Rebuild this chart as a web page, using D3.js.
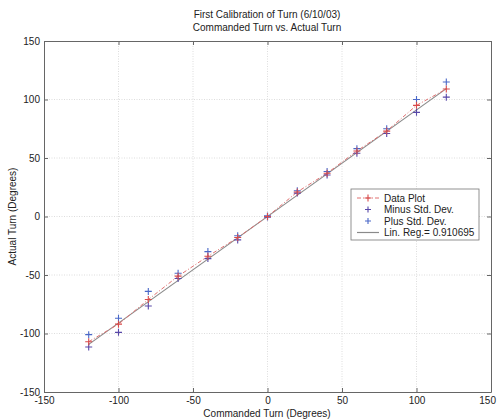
<!DOCTYPE html>
<html>
<head>
<meta charset="utf-8">
<script src="https://cdn.jsdelivr.net/npm/d3@7"></script>
<style>
  body { margin: 0; background: #fff; }
  text { font-family: "Liberation Sans", Arial, sans-serif; fill: #222; }
</style>
</head>
<body>
<div id="chart"></div>
<script>
// commanded turn (degrees)
var commanded = [-120, -100, -80, -60, -40, -20, 0, 20, 40, 60, 80, 100, 120];
// mean actual turn
var actual = [-107, -92, -71, -51, -34, -18, 0, 21, 37, 56, 73, 95, 109];
var minusStd = [-111.5, -99, -76.5, -53, -36, -20, -0.5, 20, 35.5, 54, 71, 89, 102];
var plusStd = [-101, -87, -64, -48.5, -30, -16.5, 0.5, 22, 38.5, 58, 75, 100, 115];
// linear regression line endpoints (slope 0.910695)
var regX = [-120, 120];
var regY = [-109.3, 109.3];

var xTicks = [-150, -100, -50, 0, 50, 100, 150];
var yTicks = [-150, -100, -50, 0, 50, 100, 150];

var width = 498;
var height = 420;
var plotLeft = 44, plotRight = 491, plotTop = 41, plotBottom = 392;

var svg = d3.select("#chart").append("svg")
  .attr("width", width)
  .attr("height", height);

var xScale = d3.scaleLinear().domain([-150, 150]).range([plotLeft, plotRight]);
var yScale = d3.scaleLinear().domain([-150, 150]).range([plotBottom, plotTop]);

/* grid */
var grid = svg.append("g").attr("class", "grid");
grid.selectAll(".vx").data(xTicks.slice(1, -1)).enter().append("line")
  .attr("x1", d => xScale(d)).attr("x2", d => xScale(d))
  .attr("y1", plotTop).attr("y2", plotBottom)
  .attr("stroke", "#d4d4d4").attr("stroke-width", 0.8)
  .attr("stroke-dasharray", "1,1.5");
grid.selectAll(".hy").data(yTicks.slice(1, -1)).enter().append("line")
  .attr("y1", d => yScale(d)).attr("y2", d => yScale(d))
  .attr("x1", plotLeft).attr("x2", plotRight)
  .attr("stroke", "#d4d4d4").attr("stroke-width", 0.8)
  .attr("stroke-dasharray", "1,1.5");

/* axes, MATLAB-style box with inward ticks */
var tickLen = 4;
var fmt = d => String(d);
var axisStyle = function(g) {
  g.select(".domain").attr("stroke", "#666");
  g.selectAll(".tick line").attr("stroke", "#666");
  g.selectAll(".tick text").style("font-size", "10px").attr("fill", "#222");
};

var xAxisG = svg.append("g")
  .attr("transform", `translate(0, ${plotBottom})`)
  .call(d3.axisBottom(xScale).tickValues(xTicks).tickSize(-tickLen).tickSizeOuter(0).tickPadding(5).tickFormat(fmt))
  .call(axisStyle);
// keep the last label inside the window
xAxisG.selectAll(".tick text").filter(d => d === 150)
  .attr("text-anchor", "end").attr("dx", "0.45em");

svg.append("g")
  .attr("transform", `translate(0, ${plotTop})`)
  .call(d3.axisTop(xScale).tickValues(xTicks).tickSize(-tickLen).tickSizeOuter(0).tickFormat(""))
  .call(axisStyle);
svg.append("g")
  .attr("transform", `translate(${plotLeft}, 0)`)
  .call(d3.axisLeft(yScale).tickValues(yTicks).tickSize(-tickLen).tickSizeOuter(0).tickPadding(4).tickFormat(fmt))
  .call(axisStyle);
svg.append("g")
  .attr("transform", `translate(${plotRight}, 0)`)
  .call(d3.axisRight(yScale).tickValues(yTicks).tickSize(-tickLen).tickSizeOuter(0).tickFormat(""))
  .call(axisStyle);

/* lines */
var pts = commanded.map((c, i) => ({x: c, y: actual[i], lo: minusStd[i], hi: plusStd[i]}));

var line = d3.line().x(d => xScale(d[0])).y(d => yScale(d[1]));

svg.append("path")
  .attr("d", line(regX.map((x, i) => [x, regY[i]])))
  .attr("fill", "none").attr("stroke", "#8a8a8a").attr("stroke-width", 1.2);

svg.append("path")
  .attr("d", line(pts.map(d => [d.x, d.y])))
  .attr("fill", "none").attr("stroke", "#e07070").attr("stroke-width", 1)
  .attr("stroke-dasharray", "4,2,1,2");

function plus(g, cx, cy, color, s) {
  g.append("path")
    .attr("d", `M${cx - s},${cy}H${cx + s}M${cx},${cy - s}V${cy + s}`)
    .attr("stroke", color).attr("stroke-width", 1.1).attr("fill", "none");
}

var marks = svg.append("g");
pts.forEach(d => {
  plus(marks, xScale(d.x), yScale(d.lo), "#5848a8", 3.5);
  plus(marks, xScale(d.x), yScale(d.hi), "#4a68c8", 3.5);
  plus(marks, xScale(d.x), yScale(d.y), "#d84a4a", 3.5);
});

/* titles */
svg.append("text").attr("x", 267).attr("y", 18).attr("text-anchor", "middle")
  .style("font-size", "10px").text("First Calibration of Turn (6/10/03)");
svg.append("text").attr("x", 267).attr("y", 31).attr("text-anchor", "middle")
  .style("font-size", "10px").text("Commanded Turn vs. Actual Turn");
svg.append("text").attr("x", 267).attr("y", 417).attr("text-anchor", "middle")
  .style("font-size", "10px").text("Commanded Turn (Degrees)");
svg.append("text")
  .attr("transform", `translate(16, ${yScale(0)}) rotate(-90)`)
  .attr("text-anchor", "middle")
  .style("font-size", "10px").text("Actual Turn (Degrees)");

/* legend */
var lg = svg.append("g").attr("transform", "translate(351, 189)");
lg.append("rect").attr("width", 128).attr("height", 51)
  .attr("fill", "#fff").attr("stroke", "#777").attr("stroke-width", 0.8);
var items = ["Data Plot", "Minus Std. Dev.", "Plus Std. Dev.", "Lin. Reg.= 0.910695"];
items.forEach((t, i) => {
  var y = 9 + i * 11.5;
  if (i === 0) {
    lg.append("line").attr("x1", 6).attr("x2", 28).attr("y1", y).attr("y2", y)
      .attr("stroke", "#e07070").attr("stroke-dasharray", "4,2,1,2");
    plus(lg, 17, y, "#d84a4a", 3.5);
  } else if (i === 1) {
    plus(lg, 17, y, "#5848a8", 3);
  } else if (i === 2) {
    plus(lg, 17, y, "#4a68c8", 3);
  } else {
    lg.append("line").attr("x1", 6).attr("x2", 28).attr("y1", y).attr("y2", y)
      .attr("stroke", "#8a8a8a").attr("stroke-width", 1.2);
  }
  lg.append("text").attr("x", 33).attr("y", y + 3.5)
    .style("font-size", "10px").text(t);
});
</script>
</body>
</html>
